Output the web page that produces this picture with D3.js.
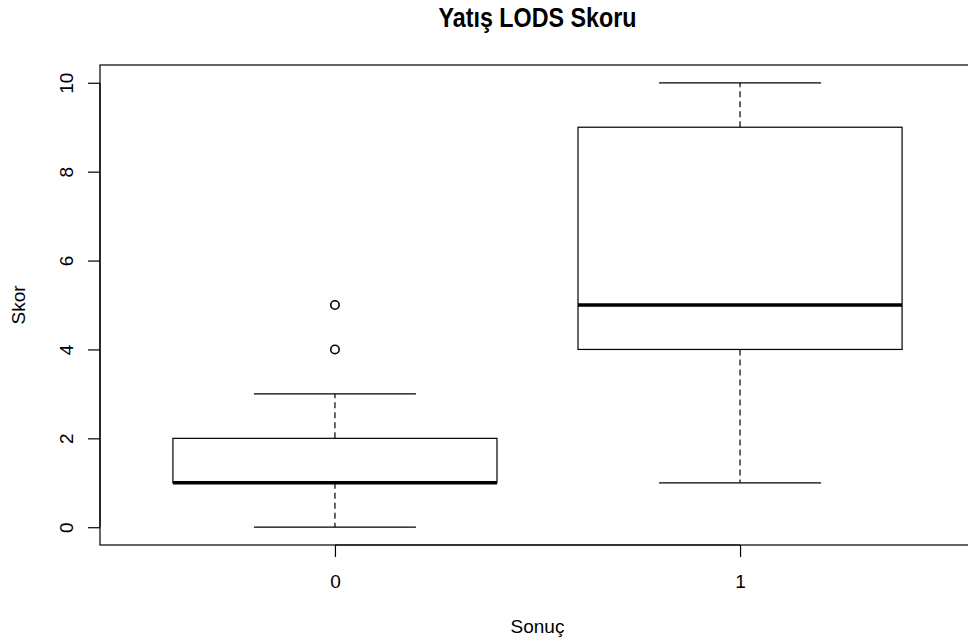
<!DOCTYPE html>
<html><head><meta charset="utf-8">
<script src="https://cdn.jsdelivr.net/npm/d3@7"></script>
<style>body{margin:0;background:#fff}svg{display:block}text{font-family:"Liberation Sans",Arial,sans-serif;fill:#000}</style>
</head><body><svg id="c" width="968" height="643"></svg>
<script>
const categories = ["0", "1"];
const whiskerLow = [0, 1];
const q1 = [1, 4];
const medians = [1, 5];
const q3 = [2, 9];
const whiskerHigh = [3, 10];
const outliers = [[4, 5], []];
const yTicks = [0, 2, 4, 6, 8, 10];

const FONT = '"Liberation Sans",Arial,sans-serif';
const svg = d3.select("#c");
const L = 100, R = 975, T = 65, B = 545;
const x = d3.scaleLinear().domain([0.42, 2.58]).range([L, R]);
const y = d3.scaleLinear().domain([-0.4, 10.4]).range([B, T]);
const SW = 1.2;

const g = svg.append("g");
categories.forEach((c, i) => {
  const cx = x(i + 1);
  const bw = x(1.4) - x(1), cw = x(1.2) - x(1);
  g.append("line").attr("x1", cx).attr("x2", cx).attr("y1", y(q3[i])).attr("y2", y(whiskerHigh[i]))
    .attr("stroke", "#000").attr("stroke-width", SW).attr("stroke-dasharray", "6,4");
  g.append("line").attr("x1", cx).attr("x2", cx).attr("y1", y(q1[i])).attr("y2", y(whiskerLow[i]))
    .attr("stroke", "#000").attr("stroke-width", SW).attr("stroke-dasharray", "6,4");
  [whiskerLow[i], whiskerHigh[i]].forEach(v => {
    g.append("line").attr("x1", cx - cw).attr("x2", cx + cw).attr("y1", y(v)).attr("y2", y(v))
      .attr("stroke", "#000").attr("stroke-width", SW);
  });
  g.append("rect").attr("x", cx - bw).attr("width", 2 * bw).attr("y", y(q3[i])).attr("height", y(q1[i]) - y(q3[i]))
    .attr("fill", "none").attr("stroke", "#000").attr("stroke-width", SW);
  g.append("line").attr("x1", cx - bw).attr("x2", cx + bw).attr("y1", y(medians[i])).attr("y2", y(medians[i]))
    .attr("stroke", "#000").attr("stroke-width", 3.6);
  outliers[i].forEach(v => {
    g.append("circle").attr("cx", cx).attr("cy", y(v)).attr("r", 4.2).attr("fill", "none")
      .attr("stroke", "#000").attr("stroke-width", 1.6);
  });
});

svg.append("rect").attr("x", L).attr("y", T).attr("width", R - L).attr("height", B - T)
  .attr("fill", "none").attr("stroke", "#000").attr("stroke-width", SW);

// y axis
const ya = svg.append("g").attr("transform", `translate(${L},0)`)
  .call(d3.axisLeft(y).tickValues(yTicks).tickSize(12).tickFormat(d3.format("d")));
ya.select(".domain").attr("d", `M0,${y(0)}V${y(10)}`).attr("stroke-width", SW);
ya.selectAll(".tick line").attr("stroke-width", SW);
ya.selectAll("text").attr("x", 0).attr("y", 0).attr("dy", null).attr("text-anchor", "middle")
  .attr("transform", "translate(-27,0) rotate(-90)")
  .attr("font-size", 19).attr("font-family", FONT);

// x axis
const xa = svg.append("g").attr("transform", `translate(0,${B})`)
  .call(d3.axisBottom(x).tickValues([1, 2]).tickSize(12).tickFormat(d => categories[d - 1]));
xa.select(".domain").attr("d", `M${x(1)},0H${x(2)}`).attr("stroke-width", SW);
xa.selectAll(".tick line").attr("stroke-width", SW);
xa.selectAll("text").attr("y", 43).attr("dy", null).attr("font-size", 19).attr("font-family", FONT);

svg.append("text").attr("x", (L + R) / 2).attr("y", 27).attr("text-anchor", "middle")
  .attr("font-weight", "bold").attr("font-size", 27)
  .attr("textLength", 198).attr("lengthAdjust", "spacingAndGlyphs").text("Yatış LODS Skoru");
svg.append("text").attr("x", (L + R) / 2).attr("y", 633).attr("text-anchor", "middle")
  .attr("font-size", 19).text("Sonuç");
svg.append("text").attr("transform", `translate(25,${(T + B) / 2}) rotate(-90)`).attr("text-anchor", "middle")
  .attr("font-size", 19).text("Skor");
</script></body></html>
